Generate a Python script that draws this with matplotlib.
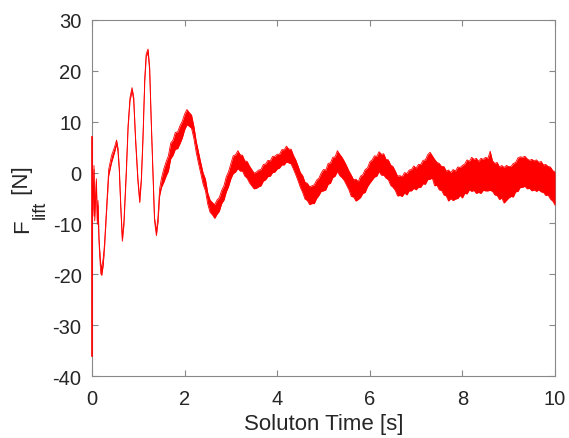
import numpy as np
import matplotlib
matplotlib.use("Agg")
import matplotlib.pyplot as plt
from matplotlib.transforms import IdentityTransform

plt.rcParams['font.family'] = ['Liberation Sans', 'DejaVu Sans']
plt.rcParams['axes.unicode_minus'] = False

# start of the run: fast oscillations, read point by point
t_early = [0.0, 0.004, 0.02, 0.03, 0.043, 0.058, 0.072, 0.085, 0.094, 0.105,
           0.115, 0.13, 0.15, 0.165, 0.19, 0.21, 0.24, 0.27, 0.31, 0.36,
           0.42, 0.49, 0.53, 0.56, 0.59, 0.62, 0.655, 0.69, 0.74, 0.78,
           0.82, 0.864, 0.9, 0.94, 0.99, 1.03, 1.066, 1.1, 1.14, 1.17,
           1.21, 1.245, 1.28, 1.32, 1.35, 1.39, 1.425, 1.46, 1.5]
f_early = [-14.5, -2.0, -8.0, -4.0, 1.0, -9.0, -6.0, -3.0, -1.5, -6.0,
           -9.8, -6.0, -13.0, -15.7, -19.0, -19.2, -17.7, -14.4, -7.9, 0.0,
           2.6, 4.6, 6.0, 4.5, 0.5, -6.5, -13.2, -9.8, 0.0, 9.2,
           14.4, 16.4, 14.5, 6.6, -1.3, -5.6, -1.3, 6.6, 18.4, 23.0,
           24.0, 20.3, 9.8, -1.3, -9.2, -12.0, -9.2, -3.9, -2.0]
up_early = [21.5, 0.8, 0.6, 0.6, 0.4, 0.5, 0.5, 0.4, 0.3, 0.4,
            0.4, 0.5, 0.5, 0.6, 0.8, 0.6, 0.7, 0.4, 0.4, 0.6,
            0.7, 0.5, 0.4, 0.3, 0.3, 0.3, 0.3, 0.3, 0.3, 0.3,
            0.3, 0.3, 0.3, 0.3, 0.3, 0.3, 0.3, 0.3, 0.3, 0.3,
            0.3, 0.3, 0.3, 0.3, 0.3, 0.4, 0.5, 0.7, 0.9]
dn_early = [21.5, 0.8, 0.6, 0.6, 0.4, 0.5, 0.5, 0.4, 0.3, 0.4,
            0.4, 0.5, 0.5, 0.6, 0.9, 1.0, 0.6, 0.4, 0.4, 0.6,
            0.7, 0.5, 0.4, 0.3, 0.3, 0.3, 0.3, 0.3, 0.3, 0.3,
            0.3, 0.3, 0.3, 0.3, 0.3, 0.3, 0.3, 0.3, 0.3, 0.3,
            0.3, 0.3, 0.3, 0.3, 0.3, 0.4, 0.5, 0.7, 0.9]

# rest of the run, sampled every 0.05 s from 1.55 s to 10 s
t_late = np.round(np.arange(1.55, 10.001, 0.05), 2)
f_late = [
    -0.5, 0.5, 2.0, 4.0, 5.0, 6.0, 6.5, 7.2, 8.5, 9.8,
    10.6, 10.5, 9.8, 8.0, 5.0, 3.0, 0.8, -1.0, -2.5, -5.0,
    -6.5, -7.3, -7.5, -7.0, -6.2, -5.0, -3.8, -2.5, -1.2, 0.2,
    1.4, 2.0, 2.3, 2.1, 1.7, 1.0, 0.4, -0.1, -1.0, -1.4,
    -1.4, -1.3, -0.8, -0.3, 0.2, 0.7, 1.0, 1.4, 1.7, 2.0,
    2.4, 2.8, 3.1, 3.3, 3.3, 3.0, 2.2, 1.0, 0.0, -1.4,
    -2.3, -3.3, -4.0, -4.3, -4.4, -4.0, -3.5, -2.6, -2.0, -1.6,
    -1.3, -0.5, 0.2, 0.9, 1.5, 1.9, 1.8, 1.0, 0.5, -0.6,
    -1.4, -2.5, -3.0, -3.2, -3.3, -2.8, -2.2, -1.6, -0.8, 0.1,
    0.6, 1.0, 1.5, 2.0, 1.8, 1.5, 1.0, 0.5, -0.3, -0.9,
    -1.5, -2.3, -2.6, -2.5, -2.2, -2.0, -1.6, -1.3, -1.0, -0.9,
    -0.6, -0.3, 0.0, 0.5, 1.0, 1.4, 1.2, 0.3, 0.0, -0.6,
    -0.9, -1.4, -1.9, -2.2, -2.3, -2.2, -2.2, -1.9, -1.6, -1.5,
    -1.0, -0.6, -0.4, -0.3, -0.3, -0.4, -0.6, -0.6, -0.4, -0.2,
    0.0, -0.3, -0.7, -0.9, -1.2, -1.5, -1.6, -1.8, -1.9, -1.7,
    -1.5, -1.3, -0.8, -0.3, 0.2, 0.4, 0.2, 0.0, -0.1, -0.2,
    -0.3, -0.4, -0.5, -0.6, -0.9, -1.1, -1.3, -1.7, -2.2, -2.6]
up_late = [
    1.2, 1.6, 1.3, 1.8, 1.4, 1.9, 1.5, 2.0, 1.6, 1.7,
    1.8, 1.3, 1.5, 1.1, 1.2, 1.0, 1.1, 0.9, 1.2, 1.0,
    1.1, 1.4, 1.2, 1.6, 1.3, 1.5, 1.2, 1.7, 1.4, 1.6,
    1.9, 1.5, 2.0, 1.4, 1.7, 1.3, 1.8, 1.4, 1.6, 1.3,
    1.5, 1.8, 1.4, 1.9, 1.5, 1.7, 1.3, 1.8, 1.5, 1.6,
    1.2, 1.7, 1.4, 1.9, 1.3, 1.6, 1.2, 1.5, 1.3, 1.4,
    1.7, 1.4, 1.9, 1.5, 1.8, 1.6, 2.0, 1.5, 1.9, 2.2,
    1.8, 2.3, 1.7, 2.1, 1.6, 2.4, 1.8, 2.0, 1.7, 1.9,
    1.7, 2.0, 1.6, 1.9, 1.5, 2.1, 1.8, 2.2, 1.7, 2.0,
    1.9, 2.3, 1.7, 2.1, 1.8, 2.2, 1.6, 2.0, 1.8, 2.1,
    1.8, 1.6, 2.0, 1.7, 2.2, 1.8, 2.1, 1.9, 2.3, 1.8,
    2.2, 1.9, 2.4, 2.0, 2.5, 2.6, 2.1, 2.3, 2.0, 2.4,
    2.1, 2.6, 2.2, 2.7, 2.3, 2.8, 2.5, 3.0, 2.6, 2.9,
    2.7, 3.1, 2.6, 3.3, 2.9, 3.2, 2.8, 3.4, 3.0, 3.2,
    2.8, 4.5, 3.0, 2.7, 3.2, 2.6, 3.0, 2.8, 3.3, 2.9,
    2.7, 3.1, 2.8, 3.2, 2.9, 2.6, 3.0, 2.7, 2.5, 2.8,
    2.6, 2.9, 2.5, 2.8, 2.4, 2.7, 2.5, 2.8, 2.6, 2.7]
dn_late = [
    1.4, 1.2, 1.7, 1.3, 1.6, 1.4, 1.8, 1.5, 1.7, 1.4,
    1.2, 1.4, 1.1, 1.3, 1.0, 1.2, 1.0, 1.3, 1.1, 1.2,
    1.3, 1.0, 1.5, 1.2, 1.4, 1.1, 1.6, 1.3, 1.5, 1.4,
    1.6, 1.9, 1.5, 1.8, 1.4, 1.7, 1.5, 1.9, 1.6, 1.8,
    1.7, 1.5, 1.8, 1.4, 1.6, 1.5, 1.7, 1.4, 1.6, 1.3,
    1.5, 1.3, 1.6, 1.2, 1.4, 1.3, 1.5, 1.4, 1.6, 1.5,
    1.6, 1.9, 1.5, 2.0, 1.7, 2.1, 1.6, 1.9, 1.7, 2.0,
    2.1, 1.8, 2.3, 1.9, 2.2, 1.7, 2.4, 2.0, 2.1, 1.9,
    2.0, 2.2, 1.8, 2.4, 2.0, 2.1, 1.9, 2.3, 2.0, 2.2,
    2.1, 1.9, 2.2, 1.8, 2.3, 2.0, 2.1, 1.9, 2.2, 2.0,
    2.0, 2.3, 1.9, 2.2, 1.8, 2.4, 2.0, 2.3, 2.1, 2.5,
    2.3, 2.6, 2.2, 2.8, 2.4, 2.7, 2.3, 2.9, 2.5, 2.8,
    2.6, 3.0, 2.7, 3.4, 2.8, 3.3, 3.0, 3.2, 2.9, 3.5,
    3.1, 3.6, 3.0, 3.4, 3.2, 3.7, 3.3, 3.5, 3.1, 3.4,
    3.6, 3.2, 3.0, 3.5, 3.3, 3.8, 3.4, 4.2, 3.6, 3.3,
    3.2, 3.5, 3.0, 3.4, 3.1, 3.3, 2.9, 3.2, 3.0, 3.4,
    3.1, 3.3, 2.9, 3.2, 3.0, 3.4, 3.1, 3.5, 3.4, 3.8]

t = np.concatenate([t_early, t_late])
f = np.concatenate([f_early, f_late])
hi = f + np.concatenate([up_early, up_late])
lo = f - np.concatenate([dn_early, dn_late])

fig = plt.figure(figsize=(5.69, 4.39), dpi=100)
ax = fig.add_axes([0.1617, 0.1412, 0.8137, 0.811])

ax.fill_between(t, lo, hi, color='#ff0000', lw=0, zorder=3)
ax.plot(t, hi, color='#ff0000', lw=0.6, zorder=3)
ax.plot(t, lo, color='#ff0000', lw=0.6, zorder=3)
# spike at t = 0, drawn over the left axis line
ax.plot([t[0], t[0]], [lo[0], hi[0]], color='#ff0000', lw=1.2,
        zorder=4, clip_on=False)

ax.set_xlim(0, 10)
ax.set_ylim(-40, 30)
ax.set_xticks([0, 2, 4, 6, 8, 10])
ax.set_yticks(np.arange(-40, 31, 10))
ax.tick_params(direction='in', length=4, width=0.8, color='#888888',
               labelsize=14.5, labelcolor='#262626', top=True, right=True)
ax.tick_params(axis='x', pad=9)
ax.tick_params(axis='y', pad=7.5)
for sp in ax.spines.values():
    sp.set_color('#888888')
    sp.set_linewidth(0.8)

ax.set_xlabel('Soluton Time [s]', fontsize=16, color='#262626', labelpad=4)

# y label "F_lift [N]" built from pieces so the subscript stays large
renderer = fig.canvas.get_renderer()
pieces = [('F', 16, 28), ('lift', 13, 45), (' [N]', 16, 28)]
ypos = 439 - 233
for txt, size, xb in pieces:
    tx = fig.text(xb, ypos, txt, fontsize=size, color='#262626', rotation=90,
                  rotation_mode='anchor', ha='left', va='baseline',
                  transform=IdentityTransform())
    ypos = tx.get_window_extent(renderer).y1

fig.savefig('out.png', dpi=100)
